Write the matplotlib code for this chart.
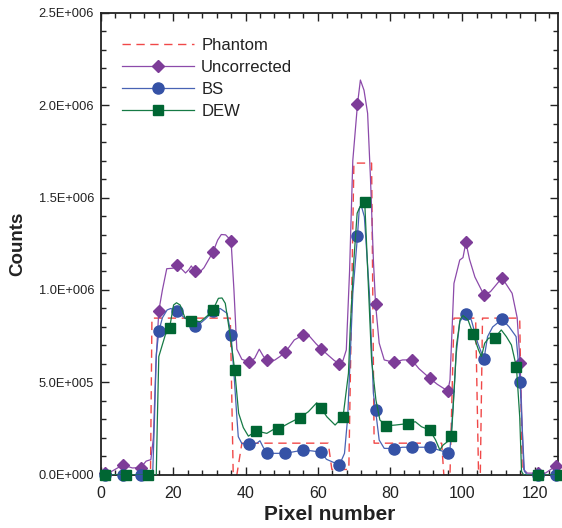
import matplotlib
matplotlib.use("Agg")
import math
import matplotlib.pyplot as plt
from matplotlib.ticker import MultipleLocator, FuncFormatter
from matplotlib.lines import Line2D

plt.rcParams['font.family'] = ['Liberation Sans', 'DejaVu Sans']

# ---------------- data (counts in millions) ----------------
phantom_x = [0, 13.7, 14.1, 35.8, 36.6, 37.6, 39.0, 62.9, 63.9, 68.6, 70.0, 74.9, 75.6,
             94.3, 94.9, 96.6, 97.7, 103.7, 104.5, 105.0, 105.6, 115.9, 116.6, 126.5]
phantom_y = [0, 0, 0.848, 0.848, 0, 0, 0.172, 0.172, 0.03, 0.03, 1.686, 1.686, 0.172,
             0.172, 0, 0, 0.848, 0.848, 0.01, 0.01, 0.848, 0.848, 0, 0]

unc_line_x = [1, 3, 6, 8.7, 11, 12.5, 13.8, 14.5, 15.2, 16, 17, 18.2, 20, 21, 22, 23.4, 24.3,
              25, 26, 27, 28.5, 31, 32.3, 33.3, 34.5, 36, 36.8, 37.6, 39, 41, 42.5, 43.8, 45,
              46, 48, 49.5, 51, 53.5, 56, 57.8, 59.5, 61, 62.8, 64.5, 66, 67, 67.9, 68.8,
              69.7, 71, 71.8, 72.8, 73.8, 74.6, 75.4, 76, 77, 78.4, 81, 83.5, 86, 88, 91,
              93.1, 96, 96.6, 97.7, 99.3, 100.2, 101, 102, 103.5, 106, 107.8, 111, 113.8,
              115.2, 116, 117, 118, 123, 124.5, 126]
unc_line_y = [0.01, 0.02, 0.054, 0.038, 0.040, 0.075, 0.083, 0.2, 0.6, 0.887, 1.0, 1.115,
              1.118, 1.135, 1.12, 1.092, 1.11, 1.13, 1.10, 1.09, 1.12, 1.205, 1.27, 1.300,
              1.298, 1.267, 1.0, 0.68, 0.625, 0.612, 0.63, 0.68, 0.64, 0.622, 0.62, 0.64,
              0.663, 0.73, 0.757, 0.748, 0.71, 0.681, 0.649, 0.62, 0.600, 0.62, 0.676, 1.1,
              1.70, 2.005, 2.135, 2.08, 1.955, 1.6, 1.16, 0.923, 0.713, 0.622, 0.609, 0.622,
              0.622, 0.575, 0.523, 0.49, 0.454, 0.514, 1.036, 1.162, 1.175, 1.258, 1.166,
              1.07, 0.973, 0.991, 1.066, 0.982, 0.85, 0.604, 0.03, 0.01, 0.01, 0.03, 0.049]
unc_mark_x = [1, 6, 11, 16, 21, 26, 31, 36, 41, 46, 51, 56, 61, 66, 71, 76, 81, 86, 91, 96,
              101, 106, 111, 116, 121, 126]
unc_mark_y = [0.01, 0.054, 0.040, 0.887, 1.135, 1.10, 1.205, 1.267, 0.612, 0.622, 0.663,
              0.757, 0.681, 0.600, 2.005, 0.923, 0.609, 0.622, 0.523, 0.454, 1.258, 0.973,
              1.066, 0.604, 0.01, 0.049]

bs_line_x = [1, 14.3, 14.8, 15.3, 16, 17, 18.3, 19.3, 21, 22, 23.2, 24.5, 26, 27.5, 29, 31,
             33, 34.9, 36, 36.8, 37.6, 38, 39, 41, 43.1, 44, 44.9, 46, 51, 53.5, 56, 58.5, 61,
             62.4, 66, 67.4, 68.3, 69.7, 71, 71.5, 72, 72.9, 74.3, 75.4, 76, 77, 78.4, 81,
             83.5, 86, 91, 93.5, 96, 96.6, 97.4, 98.3, 99.3, 101, 102.5, 104.3, 106, 107,
             108.4, 111, 113, 114.9, 116, 116.6, 117.2, 118, 126.5]
bs_line_y = [0, 0, 0.3, 0.65, 0.776, 0.85, 0.892, 0.90, 0.886, 0.87, 0.847, 0.845, 0.805,
             0.82, 0.845, 0.885, 0.90, 0.874, 0.759, 0.55, 0.315, 0.207, 0.17, 0.166, 0.171,
             0.185, 0.15, 0.117, 0.117, 0.126, 0.135, 0.13, 0.123, 0.085, 0.054, 0.117,
             0.315, 0.98, 1.294, 1.441, 1.459, 1.396, 0.982, 0.44, 0.35, 0.189, 0.144, 0.143,
             0.15, 0.15, 0.15, 0.135, 0.12, 0.14, 0.35, 0.65, 0.83, 0.870, 0.838, 0.712,
             0.625, 0.748, 0.80, 0.842, 0.80, 0.748, 0.505, 0.243, 0.02, 0, 0]
bs_mark_x = [1, 6, 11, 16, 21, 26, 31, 36, 41, 46, 51, 56, 61, 66, 71, 76, 81, 86, 91, 96,
             101, 106, 111, 116, 121, 126]
bs_mark_y = [0, 0, 0, 0.776, 0.886, 0.805, 0.885, 0.759, 0.166, 0.117, 0.117, 0.135, 0.123,
             0.054, 1.294, 0.35, 0.143, 0.15, 0.15, 0.12, 0.870, 0.625, 0.842, 0.505, 0, 0]

dew_line_x = [1, 15.3, 15.6, 16, 17.8, 19, 20.1, 20.9, 21.9, 23.3, 25, 27.5, 29.4, 31, 32.5,
              33.5, 34.4, 35.8, 37, 38.1, 39.4, 40.8, 43, 45.9, 47.8, 49, 51.9, 55, 57.4,
              59.7, 61, 62.5, 64.8, 67, 68.5, 69, 70, 70.9, 71.7, 73, 73.5, 74.9, 76.1, 77.2,
              79, 81.5, 85, 87, 88.7, 91, 92.6, 93.8, 94.7, 95.9, 97, 97.9, 98.4, 99.4, 100.2,
              101.6, 103, 104.5, 105.3, 106.2, 107.3, 109, 110.8, 112.2, 113.6, 115, 115.9,
              116.4, 117, 126.5]
dew_line_y = [0, 0, 0.3, 0.64, 0.757, 0.797, 0.919, 0.931, 0.919, 0.847, 0.833, 0.829, 0.86,
              0.893, 0.955, 0.957, 0.928, 0.748, 0.568, 0.334, 0.256, 0.21, 0.238, 0.225,
              0.247, 0.247, 0.279, 0.31, 0.342, 0.39, 0.36, 0.315, 0.27, 0.315, 0.55, 0.80,
              1.162, 1.415, 1.45, 1.477, 1.252, 0.62, 0.405, 0.297, 0.266, 0.27, 0.278, 0.288,
              0.261, 0.243, 0.19, 0.135, 0.162, 0.18, 0.209, 0.51, 0.70, 0.84, 0.862, 0.838,
              0.761, 0.676, 0.64, 0.712, 0.74, 0.742, 0.784, 0.748, 0.703, 0.582, 0.315, 0.02,
              0, 0]
dew_mark_x = [1, 7, 13, 19, 25, 31, 37, 43, 49, 55, 61, 67, 73, 79, 85, 91, 97, 103, 109,
              115, 121, 127]
dew_mark_y = [0, 0, 0, 0.797, 0.833, 0.893, 0.568, 0.238, 0.247, 0.31, 0.36, 0.315, 1.477,
              0.266, 0.278, 0.243, 0.209, 0.761, 0.742, 0.582, 0, 0]

labels = ["Phantom", "Uncorrected", "BS", "DEW"]
SCALE = 1e6

# ---------------- styling ----------------
c_ph = '#F04848'
c_unc_l, c_unc_m = '#8C4AAA', '#7D3C98'
c_bs_l, c_bs_m = '#4863B4', '#3552A6'
c_dew_l, c_dew_m = '#167A45', '#006633'

fig = plt.figure(figsize=(5.62, 5.28), dpi=100)
ax = fig.add_axes([0.1797, 0.1004, 0.8132, 0.8759])

def sc(v):
    return [a * SCALE for a in v]

ax.plot(phantom_x, sc(phantom_y), color=c_ph, lw=1.0, dashes=(6, 4), zorder=2)
ax.plot(unc_line_x, sc(unc_line_y), color=c_unc_l, lw=0.9, zorder=3)
ax.plot(unc_mark_x, sc(unc_mark_y), ls='none', marker='D', ms=6.3, color=c_unc_m,
        mec=c_unc_m, zorder=4, clip_on=False)
ax.plot(bs_line_x, sc(bs_line_y), color=c_bs_l, lw=0.9, zorder=5)
ax.plot(bs_mark_x, sc(bs_mark_y), ls='none', marker='o', ms=8, color=c_bs_m,
        mec=c_bs_m, zorder=6, clip_on=False)
ax.plot(dew_line_x, sc(dew_line_y), color=c_dew_l, lw=0.9, zorder=7)
ax.plot(dew_mark_x, sc(dew_mark_y), ls='none', marker='s', ms=7.2, color=c_dew_m,
        mec=c_dew_m, zorder=8, clip_on=False)

ax.set_xlim(0, 126.5)
ax.set_ylim(0, 2.5e6)

ax.xaxis.set_major_locator(MultipleLocator(20))
ax.xaxis.set_minor_locator(MultipleLocator(4))
ax.yaxis.set_major_locator(MultipleLocator(0.5e6))
ax.yaxis.set_minor_locator(MultipleLocator(0.1e6))

def yfmt(v, pos):
    if abs(v) < 1e-9:
        return "0.0E+000"
    e = int(math.floor(math.log10(abs(v)) + 1e-9))
    m = v / 10 ** e
    return f"{m:.1f}E+{e:03d}"

ax.yaxis.set_major_formatter(FuncFormatter(yfmt))

ax.tick_params(which='both', direction='in', top=True, right=True, width=1.0, color='#222222')
ax.tick_params(which='major', length=5.5)
ax.tick_params(which='minor', length=3.5)
ax.tick_params(axis='x', which='major', labelsize=11.5, pad=8, labelcolor='#222222')
ax.tick_params(axis='y', which='major', labelsize=9.3, pad=5, labelcolor='#222222')
for s in ax.spines.values():
    s.set_linewidth(1.3)
    s.set_color('#222222')

ax.set_xlabel("Pixel number", fontsize=15, fontweight='bold', labelpad=3, color='#222222')
ax.set_ylabel("Counts", fontsize=13.5, fontweight='bold', labelpad=9, color='#222222')

handles = [
    Line2D([], [], color=c_ph, lw=1.0, dashes=(6, 4)),
    Line2D([], [], color=c_unc_l, lw=0.9, marker='D', ms=6.3, mfc=c_unc_m, mec=c_unc_m),
    Line2D([], [], color=c_bs_l, lw=0.9, marker='o', ms=8, mfc=c_bs_m, mec=c_bs_m),
    Line2D([], [], color=c_dew_l, lw=0.9, marker='s', ms=7.2, mfc=c_dew_m, mec=c_dew_m),
]
ax.legend(handles, labels, loc='upper left', bbox_to_anchor=(0.046, 0.945), frameon=False,
          fontsize=12, handlelength=4.3, handletextpad=0.45, labelspacing=0.42,
          borderpad=0, borderaxespad=0, labelcolor='#222222')

fig.savefig("out.png", dpi=100)
